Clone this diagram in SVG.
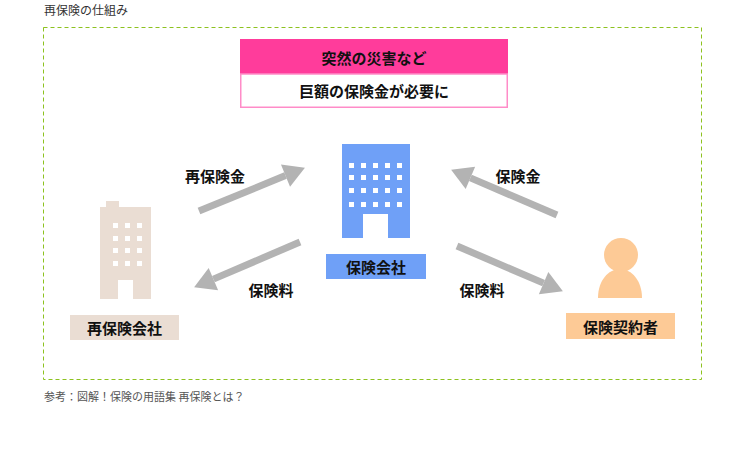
<svg xmlns="http://www.w3.org/2000/svg" width="745" height="452" viewBox="0 0 745 452">
<style>
.t{font-family:"Noto Sans CJK JP","Noto Sans",sans-serif;}
.b{font-weight:bold;font-size:15px;fill:#111;text-anchor:middle;dominant-baseline:central;}
.arr{stroke:#b3b3b3;stroke-width:7;fill:none;marker-end:url(#ah);}
.win{fill:#fff;}
</style>
<defs>
<marker id="ah" markerUnits="userSpaceOnUse" markerWidth="22" markerHeight="26" refX="0" refY="13" orient="auto" overflow="visible">
<path d="M0,1 L21,13 L0,25 Z" fill="#b3b3b3"/>
</marker>
</defs>
<rect width="745" height="452" fill="#fff"/>
<text class="t" x="44" y="15" font-size="12" fill="#333">再保険の仕組み</text>
<rect x="43.5" y="27.5" width="658" height="352" fill="none" stroke="#8dc21f" stroke-width="1" stroke-dasharray="4,3"/>

<g id="disaster">
<rect x="240" y="39" width="268" height="35" fill="#ff3c9b"/>
<rect x="240.75" y="74" width="266.5" height="33.25" fill="#fff" stroke="#ff8cc8" stroke-width="1.5"/>
<text class="t b" x="374" y="57">突然の災害など</text>
<text class="t b" x="374" y="90">巨額の保険金が必要に</text>
</g>

<g id="connectors">
<path class="arr" d="M199,211 L285.5,175.6"/>
<path class="arr" d="M300,242 L213.4,279.1"/>
<path class="arr" d="M557,215 L470.4,177.9"/>
<path class="arr" d="M457,246 L543.6,283.1"/>
<text class="t b" x="215" y="175">再保険金</text>
<text class="t b" x="271" y="289">保険料</text>
<text class="t b" x="518" y="175">保険金</text>
<text class="t b" x="482" y="289">保険料</text>
</g>

<g id="reinsurer">
<rect x="106" y="201" width="13" height="7" fill="#eaddd3"/>
<rect x="100" y="207" width="51" height="92" fill="#eaddd3"/>
<g class="win">
<rect x="113" y="223" width="5" height="5"/><rect x="125" y="223" width="5" height="5"/><rect x="137" y="223" width="5" height="5"/>
<rect x="113" y="236" width="5" height="5"/><rect x="125" y="236" width="5" height="5"/><rect x="137" y="236" width="5" height="5"/>
<rect x="113" y="248" width="5" height="5"/><rect x="125" y="248" width="5" height="5"/><rect x="137" y="248" width="5" height="5"/>
<rect x="113" y="261" width="5" height="5"/><rect x="125" y="261" width="5" height="5"/><rect x="137" y="261" width="5" height="5"/>
<rect x="118" y="280" width="15" height="19"/>
</g>
<rect x="70" y="315" width="109" height="25" fill="#eaddd3"/>
<text class="t b" x="124.5" y="327.5">再保険会社</text>
</g>

<g id="insurer">
<rect x="342" y="144" width="68" height="94" fill="#6fa0f7"/>
<g class="win">
<rect x="349" y="163" width="5" height="5"/><rect x="361" y="163" width="5" height="5"/><rect x="373" y="163" width="5" height="5"/><rect x="385" y="163" width="5" height="5"/><rect x="397" y="163" width="5" height="5"/>
<rect x="349" y="175" width="5" height="5"/><rect x="361" y="175" width="5" height="5"/><rect x="373" y="175" width="5" height="5"/><rect x="385" y="175" width="5" height="5"/><rect x="397" y="175" width="5" height="5"/>
<rect x="349" y="188" width="5" height="5"/><rect x="361" y="188" width="5" height="5"/><rect x="373" y="188" width="5" height="5"/><rect x="385" y="188" width="5" height="5"/><rect x="397" y="188" width="5" height="5"/>
<rect x="349" y="202" width="5" height="5"/><rect x="361" y="202" width="5" height="5"/><rect x="373" y="202" width="5" height="5"/><rect x="385" y="202" width="5" height="5"/><rect x="397" y="202" width="5" height="5"/>
<rect x="363" y="214" width="25" height="24"/>
</g>
<rect x="326" y="254" width="100" height="25" fill="#6fa0f7"/>
<text class="t b" x="376" y="266.5">保険会社</text>
</g>

<g id="policyholder">
<circle cx="621" cy="255" r="17" fill="#fdca96"/>
<path d="M598,298 C598,281 608,269 620,269 C632,269 642,281 642,298 Z" fill="#fdca96"/>
<rect x="566" y="313" width="109" height="26" fill="#fdca96"/>
<text class="t b" x="620.5" y="326">保険契約者</text>
</g>

<text class="t" x="44" y="401" font-size="11" fill="#555">参考：図解！保険の用語集 再保険とは？</text>
</svg>
